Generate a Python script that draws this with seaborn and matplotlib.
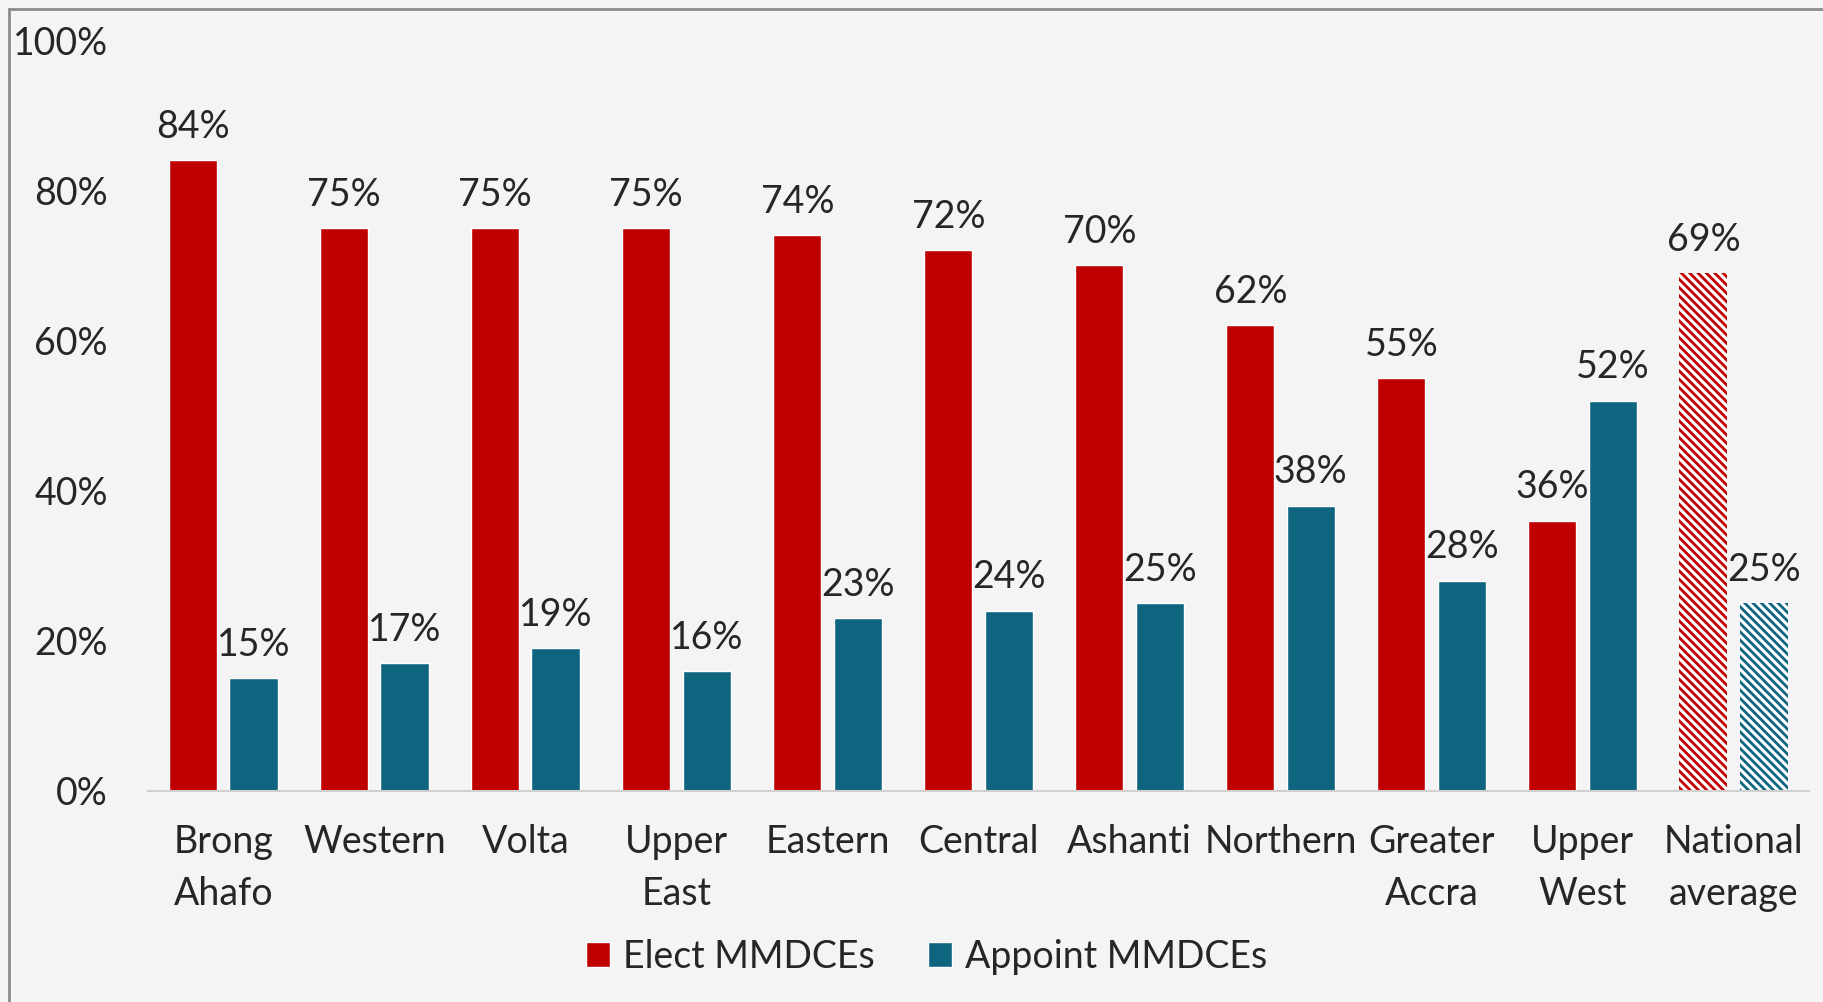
import pandas as pd
import seaborn as sns
import matplotlib.pyplot as plt
from matplotlib.patches import Rectangle

# --- dados ---
regioes = ["Brong\nAhafo", "Western", "Volta", "Upper\nEast", "Eastern", "Central",
           "Ashanti", "Northern", "Greater\nAccra", "Upper\nWest", "National\naverage"]
elect = [84, 75, 75, 75, 74, 72, 70, 62, 55, 36, 69]
appoint = [15, 17, 19, 16, 23, 24, 25, 38, 28, 52, 25]
series = ["Elect MMDCEs", "Appoint MMDCEs"]

VERMELHO = "#C00000"
AZUL = "#0F6480"
FUNDO = "#F4F4F4"
FONTE = 27

df = pd.DataFrame({
    "regiao": regioes * 2,
    "valor": elect + appoint,
    "serie": [series[0]] * len(regioes) + [series[1]] * len(regioes),
})

sns.set_style("white")
plt.rcParams["font.family"] = ["Lato", "DejaVu Sans"]
plt.rcParams["hatch.linewidth"] = 2.0

fig = plt.figure(figsize=(18.24, 10.02), dpi=100, facecolor=FUNDO)
ax = fig.add_axes([0.0811, 0.2106, 0.9107, 0.7494])
ax.set_facecolor(FUNDO)

sns.barplot(data=df, x="regiao", y="valor", hue="serie", palette=[VERMELHO, AZUL],
            width=0.8, gap=0.2, saturation=1, ax=ax)

# media nacional com hachura
for cont, cor in zip(ax.containers, [VERMELHO, AZUL]):
    barra = cont[len(regioes) - 1]
    barra.set_facecolor("white")
    barra.set_edgecolor(cor)
    barra.set_hatch("\\\\\\\\")
    barra.set_linewidth(0)
    ax.bar_label(cont, labels=[f"{v:.0f}%" for v in cont.datavalues],
                 padding=11, fontsize=FONTE)

ax.set_ylim(0, 100)
ax.set_xlim(-0.5, len(regioes) - 0.5)
ax.set_yticks(range(0, 101, 20))
ax.set_yticklabels([f"{v}%" for v in range(0, 101, 20)], fontsize=FONTE)
ax.tick_params(axis="y", length=0, pad=29)
ax.tick_params(axis="x", length=0, pad=24, labelsize=FONTE)
for rot in ax.get_xticklabels():
    rot.set_linespacing(1.55)
ax.set_xlabel("")
ax.set_ylabel("")
for lado in ["left", "top", "right"]:
    ax.spines[lado].set_visible(False)
ax.spines["bottom"].set_color("#D0D0D0")
ax.spines["bottom"].set_linewidth(1.5)

sns.move_legend(ax, "center", bbox_to_anchor=(0.508, 0.045), bbox_transform=fig.transFigure,
                ncol=2, frameon=False, title=None, fontsize=FONTE,
                handlelength=0.65, handleheight=0.65, handletextpad=0.35, columnspacing=1.4)

# moldura
fig.patches.append(Rectangle((9 / 1824, -0.1), 1.2, 1.1 - 9 / 1002, transform=fig.transFigure,
                             fill=False, edgecolor="#8C8C8C", linewidth=2))

fig.savefig("out.png", dpi=100, facecolor=FUNDO)
